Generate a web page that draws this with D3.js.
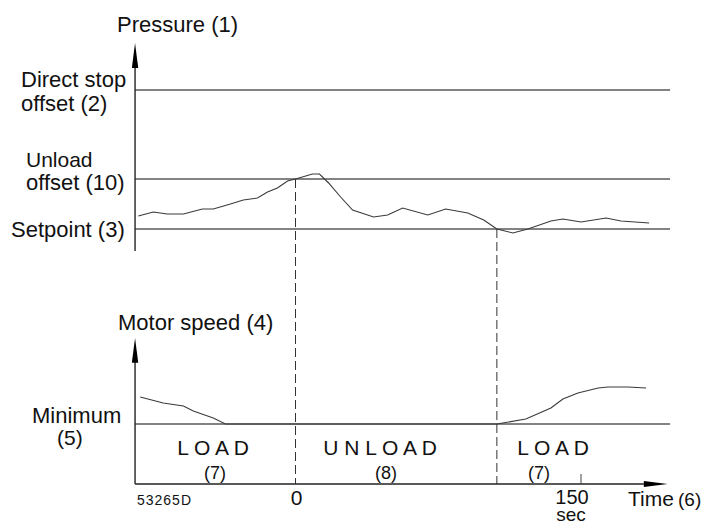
<!DOCTYPE html>
<html>
<head>
<meta charset="utf-8">
<script src="https://cdn.jsdelivr.net/npm/d3@7"></script>
<style>
  html, body { margin: 0; padding: 0; background: #fff; }
  text { font-family: "Liberation Sans", Arial, sans-serif; fill: #111; }
</style>
</head>
<body>
<svg id="chart" width="709" height="524"></svg>
<script>
// ---- data (time in sec, pressure relative: setpoint=0, unload offset=1) ----
const pressureTime = [-82.6,-74.7,-67.4,-58.9,-48.9,-43.2,-34.2,-27.4,-20,-14.7,-9.5,-4.2,0,8.9,12.6,17.4,23.7,30,41,48.4,56.3,69.5,78.9,90.5,98.9,105.8,114.2,122.1,134.2,140.5,150,163.2,171,185.8];
const pressureValue = [0.26,0.34,0.30,0.30,0.40,0.40,0.50,0.58,0.62,0.74,0.82,0.96,1.0,1.10,1.10,0.92,0.64,0.38,0.24,0.28,0.42,0.28,0.40,0.32,0.18,0,-0.08,0,0.16,0.20,0.14,0.22,0.16,0.12];
// motor speed relative: minimum = 0
const speedTime = [-81.6,-69.5,-58.9,-53.7,-43.2,-36.8,105.8,121,134.2,140.5,148.4,159,164.2,174.7,184.2];
const speedValue = [0.675,0.525,0.45,0.325,0.15,0,0,0.125,0.4,0.625,0.775,0.9,0.925,0.925,0.9];
// pressure levels
const levelNames = ["Direct stop offset (2)","Unload offset (10)","Setpoint (3)"];
const levelValues = [2.78, 1, 0];
// phases
const phaseLabels = ["L O A D","U N L O A D","L O A D"];
const phaseNumbers = ["(7)","(8)","(7)"];
const phaseBounds = [-84.3, 0, 105.8, 196.8];
const switchTimes = [0, 105.8];
const tickValues = [0, 150];

// ---- scales ----
const x = d3.scaleLinear().domain([0,150]).range([295.5,581]);
const yP = d3.scaleLinear().domain([0,1]).range([229,179]);
const yS = d3.scaleLinear().domain([0,1]).range([424,384]);

const tMin = phaseBounds[0], tMax = phaseBounds[3];
const svg = d3.select("#chart");
const x0 = x(tMin), x1 = x(tMax);

// pressure level lines
svg.selectAll("line.level").data(levelValues).join("line")
  .attr("x1", x0).attr("x2", x1)
  .attr("y1", d => yP(d)).attr("y2", d => yP(d))
  .attr("stroke", "#5a5a5a").attr("stroke-width", 1.3);

// minimum speed line
svg.append("line").attr("x1", x0).attr("x2", x1)
  .attr("y1", yS(0)).attr("y2", yS(0))
  .attr("stroke", "#5a5a5a").attr("stroke-width", 1.3);

// dashed switch lines
svg.selectAll("line.sw").data(switchTimes).join("line")
  .attr("x1", d => x(d)).attr("x2", d => x(d))
  .attr("y1", (d,i) => i === 0 ? yP(1) : yP(0))
  .attr("y2", yS(-1.5))
  .attr("stroke", "#333").attr("stroke-width", 1)
  .attr("stroke-dasharray", "9,4");

// axes
const axisColor = "#222";
// pressure axis
svg.append("line").attr("x1", x0).attr("x2", x0)
  .attr("y1", yP(-0.44)).attr("y2", yP(3.4)).attr("stroke", axisColor).attr("stroke-width", 1.4);
svg.append("path")
  .attr("d", `M${x0},${yP(3.72)} L${x0-3.2},${yP(3.22)} L${x0+3.2},${yP(3.22)} Z`)
  .attr("fill", "#000");
// speed axis
svg.append("line").attr("x1", x0).attr("x2", x0)
  .attr("y1", yS(-1.5)).attr("y2", yS(1.8)).attr("stroke", axisColor).attr("stroke-width", 1.4);
svg.append("path")
  .attr("d", `M${x0},${yS(2.15)} L${x0-3.2},${yS(1.53)} L${x0+3.2},${yS(1.53)} Z`)
  .attr("fill", "#000");
// time axis
const xEnd = x(195.5);
svg.append("line").attr("x1", x0).attr("x2", x(183))
  .attr("y1", yS(-1.5)).attr("y2", yS(-1.5)).attr("stroke", axisColor).attr("stroke-width", 1.4);
svg.append("path")
  .attr("d", `M${xEnd},${yS(-1.5)} L${x(183)},${yS(-1.5)-3} L${x(183)},${yS(-1.5)+3} Z`)
  .attr("fill", "#000");
// 150 tick
svg.append("line").attr("x1", x(150)).attr("x2", x(150))
  .attr("y1", yS(-1.5)).attr("y2", yS(-1.5)-10).attr("stroke", "#444").attr("stroke-width", 1);

// curves
const line = d3.line().x(d => x(d[0])).y(d => d[1]);
svg.append("path")
  .datum(pressureTime.map((t,i) => [t, yP(pressureValue[i])]))
  .attr("d", line).attr("fill", "none").attr("stroke", "#3a3a3a").attr("stroke-width", 1.1);
svg.append("path")
  .datum(speedTime.map((t,i) => [t, yS(speedValue[i])]))
  .attr("d", line).attr("fill", "none").attr("stroke", "#3a3a3a").attr("stroke-width", 1.1);

// ---- text ----
function txt(s, xx, yy, size, anchor) {
  return svg.append("text").attr("x", xx).attr("y", yy)
    .attr("font-size", size).attr("text-anchor", anchor || "start").text(s);
}
txt("Pressure (1)", 117, 32, 22);
txt("Direct stop", 21, 87, 22);
txt("offset (2)", 21, 111, 22);
txt("Unload", 26, 167, 21);
txt("offset (10)", 26, 190, 22);
txt("Setpoint (3)", 11, 237, 22);
txt("Motor speed (4)", 118, 330, 22);
txt("Minimum", 32, 423, 22);
txt("(5)", 57, 445, 21);

const labelCenters = [213, 380, 553];
const numCenters = [215, 386, 539];
phaseLabels.forEach((s,i) => txt(s, labelCenters[i], 455, 21, "middle"));
phaseNumbers.forEach((s,i) => txt(s, numCenters[i], 479, 18, "middle"));

txt(String(tickValues[0]), x(0)+1, 505, 21, "middle");
txt(String(tickValues[1]), x(150)-9, 504, 20, "middle");
txt("sec", x(150)-10, 521, 19, "middle");
txt("Time", 628, 506, 21);
txt("(6)", 678, 506, 19);
txt("53265D", 137, 505, 14).attr("textLength", 54);
</script>
</body>
</html>
